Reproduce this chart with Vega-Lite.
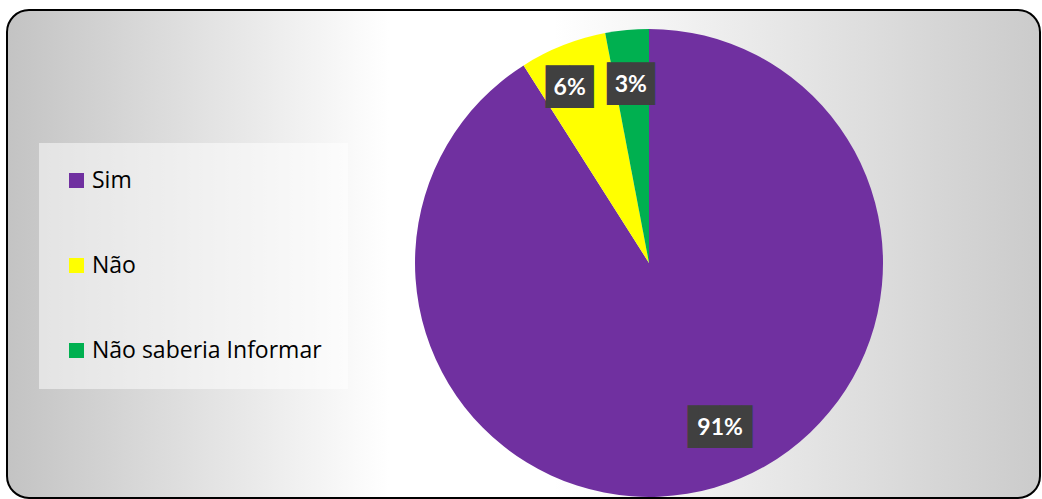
{
  "$schema": "https://vega.github.io/schema/vega-lite/v6.json",
  "width": 1042,
  "height": 499,
  "autosize": {"type": "fit", "contains": "padding"},
  "padding": {"left": 7, "top": 10, "right": 2, "bottom": 1},
  "background": "white",
  "view": {
    "fill": {
      "gradient": "linear",
      "x1": 0, "y1": 0.5, "x2": 1, "y2": 0.5,
      "stops": [
        {"offset": 0, "color": "#c3c3c3"},
        {"offset": 0.37, "color": "#ffffff"},
        {"offset": 0.53, "color": "#ffffff"},
        {"offset": 1, "color": "#cbcbcb"}
      ]
    },
    "stroke": "#000000",
    "strokeWidth": 2,
    "cornerRadius": 22
  },
  "data": {
    "values": [
      {"cat": "Sim", "value": 91, "label": "91%", "ord": 1},
      {"cat": "Não", "value": 6, "label": "6%", "ord": 2},
      {"cat": "Não saberia Informar", "value": 3, "label": "3%", "ord": 3}
    ]
  },
  "encoding": {
    "theta": {"field": "value", "type": "quantitative", "stack": true},
    "order": {"field": "ord", "type": "quantitative"}
  },
  "layer": [
    {
      "mark": {
        "type": "arc",
        "outerRadius": 234,
        "x": {"expr": "width*0.6215"},
        "y": {"expr": "height*0.5184"}
      },
      "encoding": {
        "color": {
          "field": "cat",
          "type": "nominal",
          "scale": {
            "domain": ["Sim", "Não", "Não saberia Informar"],
            "range": ["#7030A0", "#FFFF00", "#00B050"]
          },
          "legend": {
            "orient": "none",
            "legendX": 32,
            "legendY": 133,
            "title": null,
            "symbolType": "square",
            "symbolSize": 225,
            "symbolStrokeWidth": 0,
            "symbolOffset": 0,
            "labelFont": "Open Sans",
            "labelFontSize": 23,
            "labelColor": "#000000",
            "labelOffset": 4,
            "labelLimit": 400,
            "rowPadding": 61,
            "padding": 26,
            "fillColor": "rgba(255,255,255,0.5)",
            "strokeColor": null
          }
        }
      }
    },
    {
      "mark": {
        "type": "text",
        "radius": 183,
        "x": {"expr": "width*0.6215"},
        "y": {"expr": "height*0.5184"},
        "dx": {"expr": "datum.cat === 'Sim' ? 20 : datum.cat === 'Não' ? -12 : -1"},
        "dy": {"expr": "datum.cat === 'Sim' ? -11 : datum.cat === 'Não' ? -5 : 4"},
        "font": "DejaVu Sans Mono",
        "fontSize": 36,
        "color": "#404040",
        "align": "center",
        "baseline": "middle"
      },
      "encoding": {
        "text": {
          "condition": {"test": "datum.cat === 'Sim'", "value": "▐██▌"},
          "value": "▕██▏"
        }
      }
    },
    {
      "mark": {
        "type": "text",
        "radius": 183,
        "x": {"expr": "width*0.6215"},
        "y": {"expr": "height*0.5184"},
        "dx": {"expr": "datum.cat === 'Sim' ? 20 : datum.cat === 'Não' ? -12 : -1"},
        "dy": {"expr": "datum.cat === 'Sim' ? -11 : datum.cat === 'Não' ? -5 : 4"},
        "font": "Lato",
        "fontWeight": "bold",
        "fontSize": 23,
        "color": "#ffffff",
        "align": "center",
        "baseline": "middle"
      },
      "encoding": {
        "text": {"field": "label", "type": "nominal"}
      }
    }
  ]
}
